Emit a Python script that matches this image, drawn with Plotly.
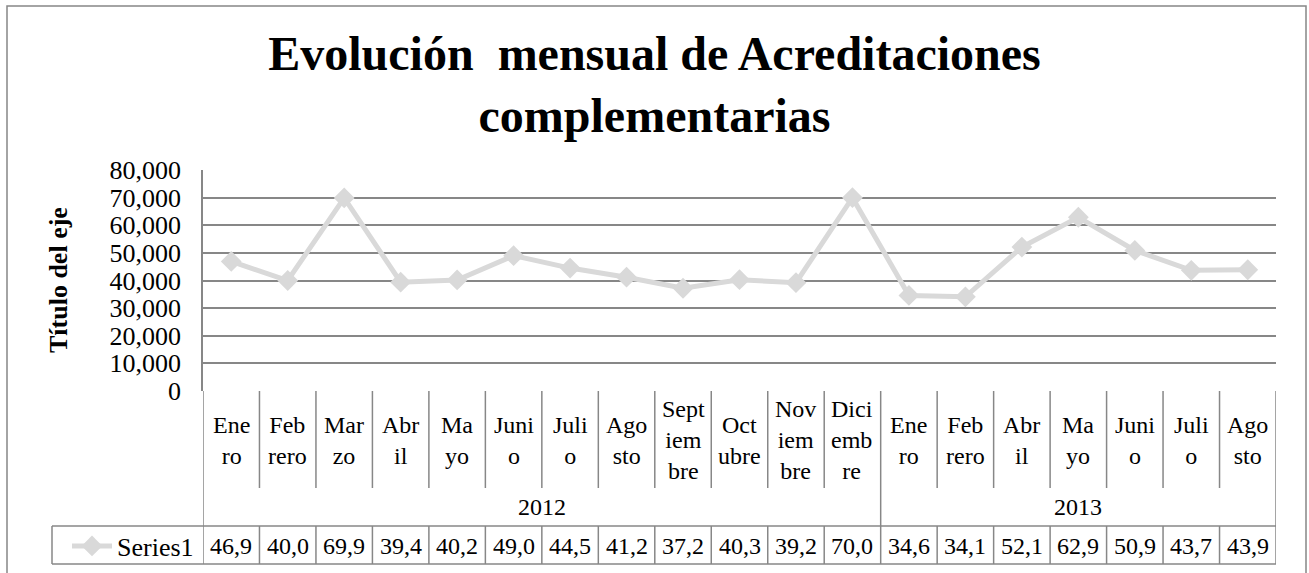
import plotly.graph_objects as go

W, H = 1309, 573

months = ["Ene<br>ro", "Feb<br>rero", "Mar<br>zo", "Abr<br>il", "Ma<br>yo", "Juni<br>o",
          "Juli<br>o", "Ago<br>sto", "Sept<br>iem<br>bre", "Oct<br>ubre", "Nov<br>iem<br>bre",
          "Dici<br>emb<br>re",
          "Ene<br>ro", "Feb<br>rero", "Abr<br>il", "Ma<br>yo", "Juni<br>o", "Juli<br>o", "Ago<br>sto"]
years = ["2012"] * 12 + ["2013"] * 7
values = [46900, 40000, 69900, 39400, 40200, 49000, 44500, 41200, 37200, 40300, 39200, 70000,
          34600, 34100, 52100, 62900, 50900, 43700, 43900]
series_name = "Series1"
y_ticks = [0, 10000, 20000, 30000, 40000, 50000, 60000, 70000, 80000]

FONT = "Liberation Serif, Times New Roman, serif"
GRID = "#878787"
LINE = "#d9d9d9"


def px(p):
    return p / W


def py_(p):
    return 1 - p / H


idx = list(range(len(values)))

fig = go.Figure(go.Scatter(x=idx, y=values, mode="lines+markers", name=series_name,
                           line=dict(color=LINE, width=5),
                           marker=dict(symbol="diamond", size=16, color=LINE)))

# table lines
shapes = []
plot_top, axis_y, month_bot, row_top, row_bot = 170, 391, 488, 526, 564
for i in range(len(values) + 1):
    b = i - 0.5
    full = i == 0 or i == len(values) or years[i] != years[i - 1]
    if full:
        shapes.append(dict(type="line", xref="x", yref="paper", x0=b, x1=b,
                           y0=py_(axis_y), y1=py_(row_bot), line=dict(color=GRID, width=1.5)))
    else:
        shapes.append(dict(type="line", xref="x", yref="paper", x0=b, x1=b,
                           y0=py_(axis_y), y1=py_(month_bot), line=dict(color=GRID, width=1.5)))
        shapes.append(dict(type="line", xref="x", yref="paper", x0=b, x1=b,
                           y0=py_(row_top), y1=py_(row_bot), line=dict(color=GRID, width=1.5)))
for yy in (row_top, row_bot):
    shapes.append(dict(type="line", xref="paper", yref="paper", x0=px(52), x1=px(1276),
                       y0=py_(yy), y1=py_(yy), line=dict(color=GRID, width=1.5)))
shapes.append(dict(type="line", xref="paper", yref="paper", x0=px(52), x1=px(52),
                   y0=py_(row_top), y1=py_(row_bot), line=dict(color=GRID, width=1.5)))
# chart border
shapes.append(dict(type="rect", xref="paper", yref="paper", x0=px(7), x1=px(1306),
                   y0=-0.05, y1=py_(6), line=dict(color=GRID, width=1.5)))

annotations = []
for i, m in enumerate(months):
    annotations.append(dict(x=i, y=py_(440), xref="x", yref="paper", text=m, showarrow=False,
                            yanchor="middle", font=dict(size=24)))
    annotations.append(dict(x=i, y=py_(546), xref="x", yref="paper",
                            text=f"{values[i] / 1000:.1f}".replace(".", ","),
                            showarrow=False, yanchor="middle", font=dict(size=24)))
for yr in dict.fromkeys(years):
    pos = [i for i, y in enumerate(years) if y == yr]
    annotations.append(dict(x=sum(pos) / len(pos), y=py_(507), xref="x", yref="paper", text=yr,
                            showarrow=False, yanchor="middle", font=dict(size=24)))
annotations.append(dict(x=px(58), y=py_(280), xref="paper", yref="paper", text="<b>Título del eje</b>",
                        textangle=-90, showarrow=False, xanchor="center", yanchor="middle",
                        font=dict(size=26)))

fig.update_layout(
    width=W, height=H,
    margin=dict(l=0, r=0, t=0, b=0, autoexpand=False),
    paper_bgcolor="white", plot_bgcolor="white",
    font=dict(family=FONT, size=25, color="black"),
    title=dict(text="<b>Evolución \u00a0mensual de Acreditaciones<br>complementarias</b>",
               x=0.5, xanchor="center", y=py_(70), yanchor="middle", yref="container",
               font=dict(size=48, family=FONT)),
    xaxis=dict(domain=[px(203), px(1276)], range=[-0.5, len(values) - 0.5],
               showgrid=False, zeroline=False, showticklabels=False, fixedrange=True),
    yaxis=dict(domain=[py_(axis_y), py_(plot_top)], range=[0, 80000], tickvals=y_ticks,
               tickformat=",d", showgrid=True, gridcolor=GRID, gridwidth=1.5, zeroline=False,
               showline=True, linecolor=GRID, linewidth=1.5, ticklabelstandoff=15,
               tickfont=dict(size=26), automargin=False),
    showlegend=True,
    legend=dict(x=px(67), y=py_(546), xanchor="left", yanchor="middle", itemwidth=40,
                bgcolor="rgba(0,0,0,0)", font=dict(size=26)),
    shapes=shapes,
    annotations=annotations,
)

fig.write_html("out.html", config={"displayModeBar": False},
               post_script="document.body.style.margin='0';document.documentElement.style.overflow='hidden';")
